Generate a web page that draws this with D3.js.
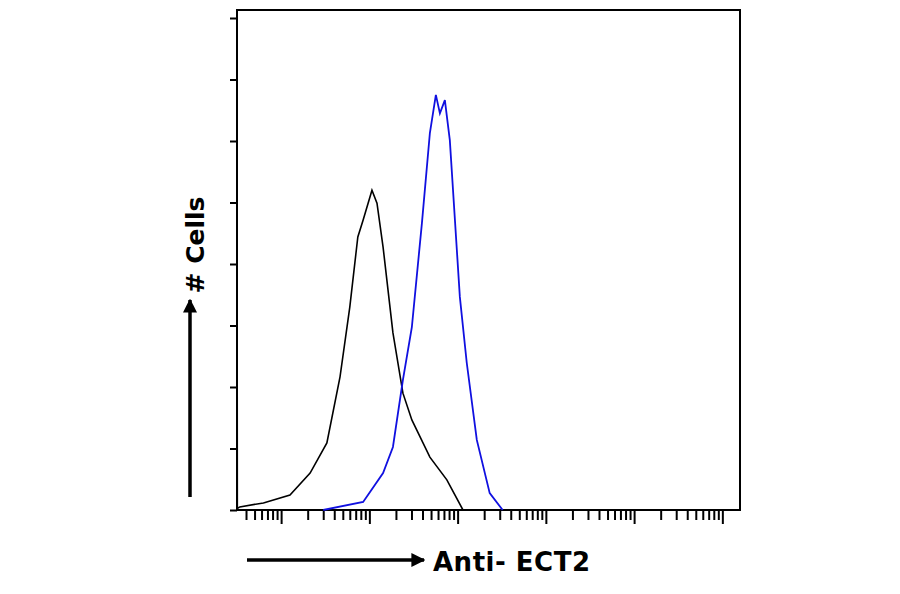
<!DOCTYPE html><html><head><meta charset="utf-8"><script src="https://cdn.jsdelivr.net/npm/d3@7"></script>
<style>body{margin:0;background:#fff}</style></head><body><svg id="c" width="900" height="594"></svg>
<script>
const blackX=[0.318,0.319,0.34,0.63,1.26,2.13,3.3,4.65,6.0,7.4,8.5,10.7,12.2,14.3,18.5,24,30.3,48.5,75.5,115];
const blackY=[37,0.5,1.0,2.3,4.9,12,21.8,43.3,66,88.8,94.3,104,99.8,85.5,57.6,38,29.3,17.2,9.8,0];
const blueX=[3.0,8.5,14.3,18.5,24,30.3,39.4,48.5,56.7,63,71.7,81.6,106,127,165,231,324];
const blueY=[0,2.6,12,20.5,42.3,59.5,93.3,122.6,135,129,133.3,120.3,69.3,47.8,22.8,5.5,0];
const yTicks=[0,20,40,60,80,100,120,140,160];
const xDomain=[Math.pow(10,-0.5),Math.pow(10,5.2)];
const L=237,R=740,T=10,B=510;
const svg=d3.select("#c");
const x=d3.scaleLog().domain(xDomain).range([L,R]);
const y=d3.scaleLinear().domain([0,160]).range([B,18]);
svg.append("rect").attr("x",L).attr("y",T).attr("width",R-L).attr("height",B-T).attr("fill","none").attr("stroke","#000").attr("stroke-width",2);
svg.append("g").attr("transform",`translate(${L},0)`).call(d3.axisLeft(y).tickValues(yTicks).tickSize(7).tickFormat(""))
 .call(g=>{g.select(".domain").remove();g.selectAll("line").attr("stroke-width",2);});
const minor=[];for(let e=-1;e<=5;e++)for(let m=1;m<10;m++){const v=m*Math.pow(10,e);if(v>=xDomain[0]&&v<=xDomain[1])minor.push(v);}
const gx=svg.append("g").attr("transform",`translate(0,${B})`);
gx.call(d3.axisBottom(x).tickValues(minor).tickSize(10).tickFormat("")).call(g=>{g.select(".domain").remove();
 g.selectAll(".tick line").attr("stroke-width",2).attr("y2",d=>Math.abs(Math.log10(d)-Math.round(Math.log10(d)))<1e-9?14:10);});
const line=d3.line().x(d=>x(d[0])).y(d=>y(d[1]));
svg.append("path").datum(blackX.map((v,i)=>[v,blackY[i]])).attr("d",line).attr("fill","none").attr("stroke","#000").attr("stroke-width",1.6);
svg.append("path").datum(blueX.map((v,i)=>[v,blueY[i]])).attr("d",line).attr("fill","none").attr("stroke","#1010e0").attr("stroke-width",1.8);
const defs=svg.append("defs");
defs.append("marker").attr("id","ah").attr("viewBox","0 0 10 10").attr("refX",9).attr("refY",5).attr("markerWidth",4).attr("markerHeight",4).attr("orient","auto")
 .append("path").attr("d","M0,0L10,5L0,10z").attr("fill","#000");
svg.append("line").attr("x1",190).attr("y1",497).attr("x2",190).attr("y2",300).attr("stroke","#000").attr("stroke-width",3.5).attr("marker-end","url(#ah)");
svg.append("line").attr("x1",247).attr("y1",560).attr("x2",424).attr("y2",560).attr("stroke","#000").attr("stroke-width",3.5).attr("marker-end","url(#ah)");
svg.append("text").attr("transform","translate(204,245) rotate(-90)").attr("text-anchor","middle").attr("font-family","DejaVu Sans").attr("font-weight","bold").attr("font-size",25).text("# Cells");
svg.append("text").attr("x",433).attr("y",571).attr("font-family","DejaVu Sans").attr("font-weight","bold").attr("font-size",26).attr("textLength",157).text("Anti- ECT2");
</script></body></html>
